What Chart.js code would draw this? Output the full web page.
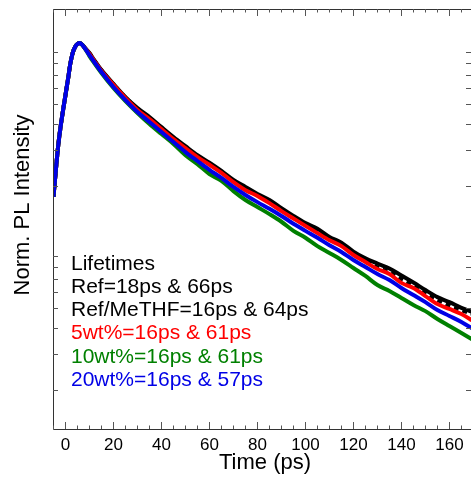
<!DOCTYPE html>
<html>
<head>
<meta charset="utf-8">
<script src="https://cdn.jsdelivr.net/npm/chart.js@4.4.1/dist/chart.umd.min.js"></script>
<style>
  html, body { margin: 0; padding: 0; background: #fff; }
  #wrap { width: 471px; height: 491px; position: relative; }
</style>
</head>
<body>
<div id="wrap"><canvas id="plChart"></canvas></div>
<script>
// time axis (ps)
const timePs = [-5,-4,-3,-2,-1,0,1,2,3,4,5,6,7,8,10,12,15,20,25,30,35,40,45,50,55,60,65,70,75,80,85,90,95,100,105,110,115,120,125,130,135,140,145,150,155,160,165,170];

// normalized PL intensity
const refSolid = [0.176,0.239,0.316,0.392,0.469,0.556,0.659,0.789,0.893,0.956,0.989,1.000,0.980,0.950,0.893,0.825,0.737,0.630,0.543,0.480,0.434,0.387,0.346,0.312,0.282,0.259,0.236,0.213,0.197,0.182,0.170,0.155,0.142,0.131,0.123,0.112,0.105,0.0950,0.0880,0.0830,0.0785,0.0725,0.0670,0.0615,0.0568,0.0537,0.0503,0.0478];
const refMeTHF = [0.176,0.239,0.316,0.392,0.469,0.556,0.659,0.789,0.893,0.956,0.989,1.000,0.979,0.948,0.888,0.820,0.733,0.626,0.540,0.475,0.429,0.383,0.342,0.308,0.279,0.256,0.233,0.210,0.193,0.180,0.167,0.152,0.140,0.129,0.120,0.110,0.103,0.0925,0.0850,0.0795,0.0750,0.0695,0.0645,0.0590,0.0550,0.0515,0.0490,0.0468];
const wt5 = [0.176,0.239,0.316,0.392,0.469,0.556,0.659,0.789,0.893,0.956,0.989,1.000,0.979,0.947,0.883,0.816,0.729,0.623,0.537,0.469,0.424,0.379,0.338,0.305,0.276,0.253,0.231,0.208,0.190,0.178,0.164,0.150,0.138,0.127,0.117,0.108,0.101,0.0914,0.0844,0.0780,0.0737,0.0667,0.0630,0.0575,0.0525,0.0497,0.0469,0.0433];
const wt10 = [0.176,0.239,0.316,0.392,0.469,0.556,0.659,0.789,0.893,0.956,0.989,1.000,0.978,0.945,0.863,0.798,0.713,0.602,0.519,0.454,0.401,0.358,0.320,0.282,0.255,0.228,0.211,0.188,0.170,0.157,0.145,0.133,0.120,0.111,0.101,0.0935,0.0864,0.0789,0.0721,0.0651,0.0609,0.0563,0.0520,0.0485,0.0444,0.0410,0.0379,0.0350];
const wt20 = [0.176,0.239,0.316,0.392,0.469,0.556,0.659,0.789,0.893,0.956,0.989,1.000,0.978,0.945,0.873,0.807,0.721,0.609,0.525,0.459,0.410,0.366,0.327,0.292,0.264,0.239,0.218,0.197,0.180,0.166,0.154,0.142,0.130,0.120,0.111,0.102,0.0945,0.0864,0.0798,0.0737,0.0689,0.0630,0.0582,0.0537,0.0491,0.0459,0.0429,0.0396];

// axis ticks
const xTicks = [0,20,40,60,80,100,120,140,160];
const xMinorTicks = [-5,5,10,15,25,30,35,45,50,55,65,70,75,85,90,95,105,110,115,125,130,135,145,150,155,165];
const yTicks = [0.02,0.03,0.04,0.05,0.06,0.07,0.08,0.09,0.2,0.3,0.4,0.5,0.6,0.7,0.8,0.9];

const lifetimeLines = [
  ['Lifetimes', '#000000'],
  ['Ref=18ps & 66ps', '#000000'],
  ['Ref/MeTHF=16ps & 64ps', '#000000'],
  ['5wt%=16ps & 61ps', '#ff0000'],
  ['10wt%=16ps & 61ps', '#008000'],
  ['20wt%=16ps & 57ps', '#0000e6']
];

const FONT = '"Liberation Sans", Arial, sans-serif';

function series(data, color, order, dash) {
  return {
    data: data.map((v, i) => ({x: timePs[i], y: v})),
    borderColor: color,
    borderWidth: 4,
    borderDash: dash || [],
    pointRadius: 0,
    fill: false,
    cubicInterpolationMode: 'monotone',
    order: order
  };
}

// frame, inward ticks and the text block
const framePlugin = {
  id: 'frame',
  afterDraw(chart) {
    const ctx = chart.ctx;
    const a = chart.chartArea;
    const xs = chart.scales.x, ys = chart.scales.y;
    ctx.save();
    ctx.strokeStyle = '#333';
    ctx.lineWidth = 1;
    ctx.beginPath();
    ctx.moveTo(a.left + 0.5, a.top + 0.5);
    ctx.lineTo(a.right, a.top + 0.5);
    ctx.moveTo(a.left + 0.5, a.top);
    ctx.lineTo(a.left + 0.5, a.bottom + 0.5);
    ctx.lineTo(a.right, a.bottom + 0.5);
    ctx.stroke();

    ctx.strokeStyle = '#555';
    ctx.beginPath();
    const xt = (v, len) => {
      const px = Math.round(xs.getPixelForValue(v)) + 0.5;
      ctx.moveTo(px, a.bottom); ctx.lineTo(px, a.bottom - len);
      ctx.moveTo(px, a.top); ctx.lineTo(px, a.top + len);
    };
    xTicks.forEach(v => xt(v, 7));
    xMinorTicks.forEach(v => xt(v, 3.5));
    yTicks.forEach(v => {
      const py = Math.round(ys.getPixelForValue(v)) + 0.5;
      ctx.moveTo(a.left, py); ctx.lineTo(a.left + 5, py);
      ctx.moveTo(a.right, py); ctx.lineTo(a.right - 5, py);
    });
    ctx.stroke();

    ctx.fillStyle = '#000';
    ctx.font = '22px ' + FONT;
    ctx.textAlign = 'center';
    ctx.textBaseline = 'alphabetic';
    ctx.fillText('Time (ps)', 265, 469);

    ctx.save();
    ctx.translate(29, 205);
    ctx.rotate(-Math.PI / 2);
    ctx.fillText('Norm. PL Intensity', 0, 0);
    ctx.restore();

    ctx.font = '21px ' + FONT;
    ctx.textAlign = 'left';
    lifetimeLines.forEach((l, i) => {
      ctx.fillStyle = l[1];
      ctx.fillText(l[0], 71, 269.5 + i * 23.3);
    });
    ctx.restore();
  }
};

const ctx = document.getElementById('plChart').getContext('2d');
new Chart(ctx, {
  type: 'line',
  data: {
    datasets: [
      series(refSolid, '#000000', 5),
      series(refMeTHF, '#000000', 4, [5, 4]),
      series(wt5, '#ff0000', 3),
      series(wt10, '#008000', 2),
      series(wt20, '#0000e6', 1)
    ]
  },
  options: {
    responsive: true,
    maintainAspectRatio: false,
    animation: false,
    layout: { padding: { top: 9, right: 0, left: 0, bottom: 0 } },
    plugins: { legend: { display: false }, tooltip: { enabled: false } },
    scales: {
      x: {
        type: 'linear',
        min: -5.2,
        max: 169,
        afterBuildTicks: s => { s.ticks = xTicks.map(v => ({value: v})); },
        afterFit: s => { s.height = 62; },
        grid: { display: false, drawTicks: false },
        border: { display: false },
        ticks: { color: '#000', font: { family: FONT, size: 17 }, padding: 6, maxRotation: 0 }
      },
      y: {
        type: 'logarithmic',
        min: 0.01282,
        max: 1.468,
        afterFit: s => { s.width = 53; },
        grid: { display: false, drawTicks: false },
        border: { display: false },
        ticks: { display: false }
      }
    }
  },
  plugins: [framePlugin]
});
</script>
</body>
</html>
